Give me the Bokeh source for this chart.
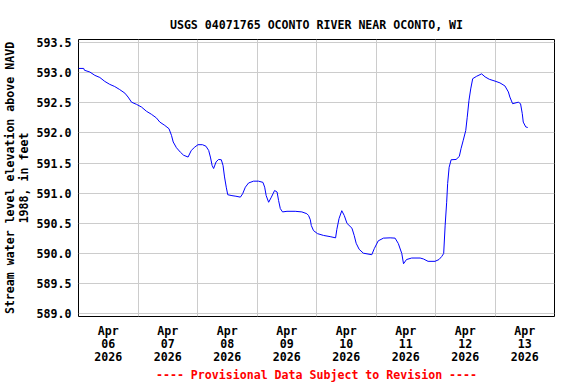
from datetime import datetime, timedelta

from bokeh.plotting import figure
from bokeh.models import FixedTicker, DatetimeTickFormatter, Range1d, PrintfTickFormatter
from bokeh.embed import file_html
from bokeh.resources import INLINE

# ---- data ----
start = datetime(2026, 4, 6)
title_text = "USGS 04071765 OCONTO RIVER NEAR OCONTO, WI"
ylabel_text = "Stream water level elevation above NAVD\n1988, in feet"
footer_text = "---- Provisional Data Subject to Revision ----"

# hours since 2026-04-06 00:00
hours = [0.0, 2.1, 2.4, 4.6, 6.6, 8.6, 10.6, 12.6, 14.6, 16.6, 18.7, 20.0, 21.4, 23.4,
         25.4, 27.4, 29.4, 31.4, 32.8, 34.8, 36.5, 37.5, 38.2, 39.5, 41.1, 42.4, 44.2,
         45.5, 46.9, 48.2, 50.0, 51.4, 52.5, 53.2, 53.9, 54.5, 55.5, 56.5, 57.6, 58.3,
         58.9, 59.6, 60.2, 61.9, 63.5, 65.3, 66.2, 67.3, 68.6, 70.6, 72.6, 74.4, 75.1,
         75.7, 76.7, 77.8, 79.1, 80.1, 80.7, 81.4, 82.3, 84.1, 87.4, 90.1, 92.1, 92.8,
         93.5, 93.9, 94.8, 96.4, 98.8, 101.5, 103.7, 104.2, 105.1, 106.2, 107.2, 108.3,
         110.3, 111.2, 112.0, 113.2, 114.9, 118.3, 119.3, 120.9, 123.0, 125.7, 127.7,
         129.0, 130.4, 131.1, 132.3, 134.4, 137.8, 139.1, 141.0, 143.8, 145.4, 146.5,
         147.3, 147.9, 148.5, 148.9, 149.5, 150.3, 152.3, 153.6, 154.3, 155.2, 156.2,
         156.8, 157.5, 158.2, 159.0, 160.6, 162.6, 164.0, 165.7, 168.0, 170.0, 172.0,
         173.4, 174.0, 175.1, 177.4, 178.3, 179.0, 179.4, 180.4, 181.2]
stage_ft = [593.07, 593.07, 593.04, 593.01, 592.955, 592.92, 592.855, 592.806, 592.77,
            592.72, 592.66, 592.595, 592.51, 592.474, 592.43, 592.36, 592.31, 592.25,
            592.18, 592.125, 592.07, 591.96, 591.85, 591.755, 591.68, 591.63, 591.60,
            591.71, 591.765, 591.805, 591.805, 591.78, 591.71, 591.60, 591.46, 591.41,
            591.52, 591.56, 591.555, 591.46, 591.27, 591.10, 590.975, 590.96, 590.95,
            590.935, 590.99, 591.10, 591.17, 591.20, 591.20, 591.18, 591.10, 590.96,
            590.85, 590.935, 591.045, 591.02, 590.88, 590.745, 590.69, 590.70, 590.70,
            590.69, 590.66, 590.63, 590.56, 590.465, 590.38, 590.33, 590.30, 590.28,
            590.26, 590.40, 590.58, 590.71, 590.63, 590.50, 590.42, 590.30, 590.17,
            590.07, 590.005, 589.98, 590.08, 590.21, 590.255, 590.26, 590.255, 590.165,
            590.00, 589.83, 589.90, 589.925, 589.925, 589.91, 589.87, 589.87, 589.90,
            589.95, 590.0, 590.47, 590.85, 591.16, 591.43, 591.555, 591.56, 591.61,
            591.74, 591.88, 592.04, 592.26, 592.54, 592.73, 592.90, 592.94, 592.98,
            592.93, 592.89, 592.86, 592.83, 592.78, 592.68, 592.595, 592.485, 592.51,
            592.485, 592.32, 592.18, 592.10, 592.09]
day_count = 8
y_ticks = [589.0, 589.5, 590.0, 590.5, 591.0, 591.5, 592.0, 592.5, 593.0, 593.5]
y_min, y_max = 588.955, 593.55

times = [start + timedelta(hours=h) for h in hours]
x0 = start
x1 = start + timedelta(days=day_count)
noon_ticks = [(start + timedelta(days=d, hours=12) - datetime(1970, 1, 1)).total_seconds() * 1000.0
              for d in range(day_count)]
midnight_ticks = [(start + timedelta(days=d) - datetime(1970, 1, 1)).total_seconds() * 1000.0
                  for d in range(1, day_count)]

FONT = "DejaVu Sans Mono"
FS = "11.6px"

p = figure(width=576, height=384, x_axis_type="datetime",
           x_range=Range1d(x0, x1), y_range=Range1d(y_min, y_max),
           output_backend="svg", toolbar_location=None,
           min_border_left=78, min_border_right=22, min_border_top=39, min_border_bottom=68)

p.background_fill_color = "white"
p.border_fill_color = "white"
p.outline_line_color = "black"
p.outline_line_width = 1
p.outline_line_alpha = 1.0

# title
p.title.text = title_text
p.title.align = "center"
p.title.text_font = FONT
p.title.text_font_size = FS
p.title.text_font_style = "bold"
p.title.text_color = "black"
p.title.standoff = 16

p.line(times, stage_ft, line_color="#0000ff", line_width=1)

# x axis
fmt = "%b\n%d\n%Y"
p.xaxis.ticker = FixedTicker(ticks=noon_ticks)
p.xaxis.formatter = DatetimeTickFormatter(days=fmt, hours=fmt, hourmin=fmt, minutes=fmt,
                                          months=fmt, years=fmt, minsec=fmt, seconds=fmt,
                                          milliseconds=fmt, microseconds=fmt,
                                          strip_leading_zeros=False)
p.xgrid.ticker = FixedTicker(ticks=midnight_ticks)

# y axis
p.yaxis.ticker = FixedTicker(ticks=y_ticks)
p.yaxis.formatter = PrintfTickFormatter(format="%.1f")
p.ygrid.ticker = FixedTicker(ticks=y_ticks)

for ax in (p.xaxis[0], p.yaxis[0]):
    ax.axis_line_color = None
    ax.major_tick_line_color = None
    ax.minor_tick_line_color = None
    ax.major_tick_in = 0
    ax.major_tick_out = 0
    ax.minor_tick_in = 0
    ax.minor_tick_out = 0
    ax.major_label_text_font = FONT
    ax.major_label_text_font_size = FS
    ax.major_label_text_font_style = "bold"
    ax.major_label_text_color = "black"
    ax.axis_label_text_font = FONT
    ax.axis_label_text_font_size = FS
    ax.axis_label_text_font_style = "bold"

p.xaxis.major_label_standoff = 7
p.xaxis.major_label_text_line_height = 0.94
p.xaxis.axis_label = footer_text
p.xaxis.axis_label_text_color = "#ff0000"
p.xaxis.axis_label_standoff = 1

p.yaxis.major_label_standoff = 7
p.yaxis.axis_label = ylabel_text
p.yaxis.axis_label_text_color = "black"
p.yaxis.axis_label_text_line_height = 0.94
p.yaxis.axis_label_standoff = 3

for g in (p.xgrid[0], p.ygrid[0]):
    g.grid_line_color = "#cccccc"
    g.grid_line_width = 1

open("out.html", "w").write(file_html(p, INLINE))
